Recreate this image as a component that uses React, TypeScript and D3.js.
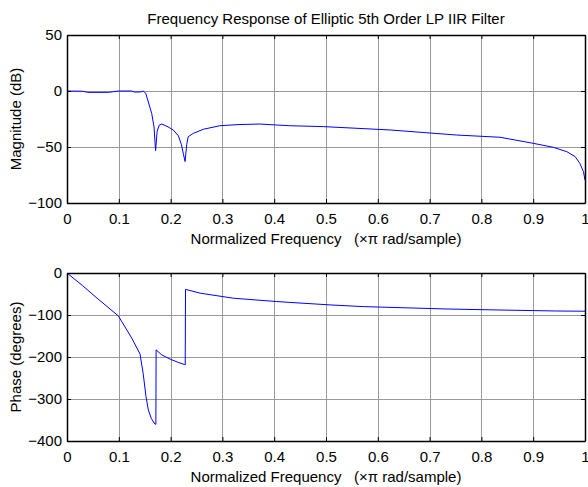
import { useEffect, useRef } from "react";
import * as d3 from "d3";

// normalized frequency (x pi rad/sample) and magnitude (dB)
const magFreq = [0, 0.03, 0.04, 0.08, 0.09, 0.1, 0.125, 0.13, 0.142, 0.147, 0.152, 0.1635, 0.168, 0.171, 0.174, 0.178, 0.183, 0.195, 0.205, 0.215, 0.221, 0.225, 0.228, 0.231, 0.234, 0.244, 0.263, 0.295, 0.33, 0.372, 0.43, 0.495, 0.624, 0.752, 0.836, 0.9, 0.939, 0.965, 0.981, 0.99, 0.997, 1];
const magDb = [0, -0.2, -1.2, -1.2, -0.6, 0, 0, -0.9, -0.9, 0, -2, -20, -32, -53.3, -36, -30.5, -29.5, -32, -34.8, -40, -48, -57, -63, -48, -40.8, -37.8, -34.2, -31, -30, -29.5, -31, -31.8, -34.8, -39.3, -41.3, -46.7, -50.3, -54.2, -58.6, -64.6, -72, -79.5];

// phase (degrees)
const phaseFreq = [0, 0.03, 0.06, 0.099, 0.125, 0.141, 0.147, 0.1525, 0.157, 0.163, 0.170, 0.1716, 0.172, 0.183, 0.199, 0.215, 0.227, 0.2282, 0.2288, 0.257, 0.321, 0.405, 0.43, 0.508, 0.572, 0.643, 0.733, 0.83, 0.945, 1];
const phaseDeg = [0, -30, -62, -102, -155, -193, -239, -294, -326, -347, -360, -360, -183, -195, -205, -213, -218, -219, -39, -48, -60, -68, -70, -76, -80, -82.5, -85.7, -88, -90.5, -91];

const xTicks = [0, 0.1, 0.2, 0.3, 0.4, 0.5, 0.6, 0.7, 0.8, 0.9, 1];
const xTickLabels = ["0", "0.1", "0.2", "0.3", "0.4", "0.5", "0.6", "0.7", "0.8", "0.9", "1"];
const magTicks = [-100, -50, 0, 50];
const phaseTicks = [-400, -300, -200, -100, 0];

const W = 588;
const H = 487;
const FONT = "'Liberation Sans', Arial, sans-serif";
const FS = "15px";

const App = () => {
  const svgRef = useRef<SVGSVGElement>(null);

  useEffect(() => {
    const svg = d3.select(svgRef.current);
    svg.selectAll("*").remove();

    const left = 67;
    const right = 585;

    const drawPanel = (
      top: number,
      bottom: number,
      domain: [number, number],
      yTicks: number[],
      xs: number[],
      ys: number[],
      yLabel: string
    ) => {
      const x = d3.scaleLinear().domain([0, 1]).range([left, right]);
      const y = d3.scaleLinear().domain(domain).range([bottom, top]);
      const g = svg.append("g");

      // grid
      g.selectAll(".vgrid")
        .data(xTicks.slice(1, -1))
        .enter()
        .append("line")
        .attr("x1", (d) => Math.round(x(d)) + 0.5)
        .attr("x2", (d) => Math.round(x(d)) + 0.5)
        .attr("y1", top)
        .attr("y2", bottom)
        .attr("stroke", "#9a9a9a")
        .attr("stroke-width", 1);
      g.selectAll(".hgrid")
        .data(yTicks.slice(1, -1))
        .enter()
        .append("line")
        .attr("x1", left)
        .attr("x2", right)
        .attr("y1", (d) => Math.round(y(d)) + 0.5)
        .attr("y2", (d) => Math.round(y(d)) + 0.5)
        .attr("stroke", "#9a9a9a")
        .attr("stroke-width", 1);

      // data line
      const line = d3
        .line<number>()
        .x((d) => x(d))
        .y((d, i) => y(ys[i]));
      g.append("path")
        .datum(xs)
        .attr("d", line)
        .attr("fill", "none")
        .attr("stroke", "#0000ff")
        .attr("stroke-width", 1);

      // axes with inner ticks, mirrored on top/right
      const tick = 4;
      g.append("g")
        .attr("transform", `translate(0, ${bottom})`)
        .call(d3.axisBottom(x).tickValues(xTicks).tickSizeInner(-tick).tickSizeOuter(0).tickFormat((d, i) => xTickLabels[i]).tickPadding(10));
      g.append("g")
        .attr("transform", `translate(0, ${top})`)
        .call(d3.axisTop(x).tickValues(xTicks).tickSizeInner(-tick).tickSizeOuter(0).tickFormat(() => ""));
      g.append("g")
        .attr("transform", `translate(${left}, 0)`)
        .call(d3.axisLeft(y).tickValues(yTicks).tickSizeInner(-tick).tickSizeOuter(0).tickPadding(5));
      g.append("g")
        .attr("transform", `translate(${right}, 0)`)
        .call(d3.axisRight(y).tickValues(yTicks).tickSizeInner(-tick).tickSizeOuter(0).tickFormat(() => ""));

      g.selectAll(".domain").attr("stroke", "#000").attr("stroke-width", 1.5);
      g.selectAll(".tick line").attr("stroke", "#000");
      g.selectAll(".tick text")
        .attr("fill", "#000")
        .style("font-family", FONT)
        .style("font-size", FS);

      // x label
      g.append("text")
        .attr("x", (left + right) / 2)
        .attr("y", bottom + 41)
        .attr("text-anchor", "middle")
        .style("font-family", FONT)
        .style("font-size", FS)
        .style("white-space", "pre")
        .text("Normalized Frequency   (\u00d7\u03c0 rad/sample)");

      // y label
      g.append("text")
        .attr("transform", "rotate(-90)")
        .attr("x", -(top + bottom) / 2)
        .attr("y", 21)
        .attr("text-anchor", "middle")
        .style("font-family", FONT)
        .style("font-size", FS)
        .text(yLabel);
    };

    drawPanel(35, 203, [-100, 50], magTicks, magFreq, magDb, "Magnitude (dB)");
    drawPanel(273, 441, [-400, 0], phaseTicks, phaseFreq, phaseDeg, "Phase (degrees)");

    // title
    svg
      .append("text")
      .attr("x", (67 + 585) / 2)
      .attr("y", 24)
      .attr("text-anchor", "middle")
      .style("font-family", FONT)
      .style("font-size", FS)
      .text("Frequency Response of Elliptic 5th Order LP IIR Filter");
  }, []);

  return (
    <svg
      ref={svgRef}
      width={W}
      height={H}
      style={{ position: "absolute", left: 0, top: 0, background: "#fff" }}
    ></svg>
  );
};

export default App;
